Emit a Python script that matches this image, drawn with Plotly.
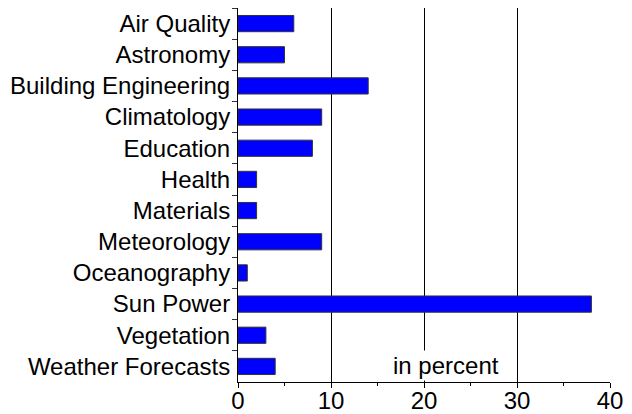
import plotly.graph_objects as go

categories = ["Air Quality", "Astronomy", "Building Engineering", "Climatology",
              "Education", "Health", "Materials", "Meteorology", "Oceanography",
              "Sun Power", "Vegetation", "Weather Forecasts"]
values = [6, 5, 14, 9, 8, 2, 2, 9, 1, 38, 3, 4]
x_ticks = [0, 10, 20, 30, 40]
unit_label = "in percent"

fig = go.Figure(go.Bar(
    x=values, y=categories, orientation="h",
    marker=dict(color="#0000FF", line=dict(color="#333333", width=1)),
))

font = dict(family="Liberation Sans, Arial, sans-serif", size=24, color="black")

# page body has an 8px default margin, so the figure is sized to compensate
fig.update_layout(
    width=624, height=406,
    margin=dict(l=230, r=22, t=0, b=32),
    paper_bgcolor="white", plot_bgcolor="white",
    bargap=0.48, showlegend=False, font=font,
    xaxis=dict(range=[0, 40], tickvals=x_ticks, ticks="outside", ticklen=5,
               tickcolor="black", showline=True, linecolor="black", linewidth=1,
               showgrid=True, gridcolor="black", gridwidth=1, zeroline=False,
               minor=dict(dtick=5, ticks="outside", ticklen=3, tickcolor="black", showgrid=False),
               tickfont=font, fixedrange=True, automargin=False, ticklabelstandoff=-8),
    yaxis=dict(autorange="reversed", tickson="boundaries", ticks="outside", ticklen=5,
               tickcolor="#333333", showline=True, linecolor="black", linewidth=1,
               showgrid=False, zeroline=False, tickfont=font, ticklabelstandoff=2,
               automargin=False),
    annotations=[dict(text=unit_label, x=22.4, xref="x", y=0.003, yref="paper",
                      yanchor="bottom", showarrow=False, bgcolor="white",
                      borderpad=1, font=font)],
)

fig.write_html("out.html")
